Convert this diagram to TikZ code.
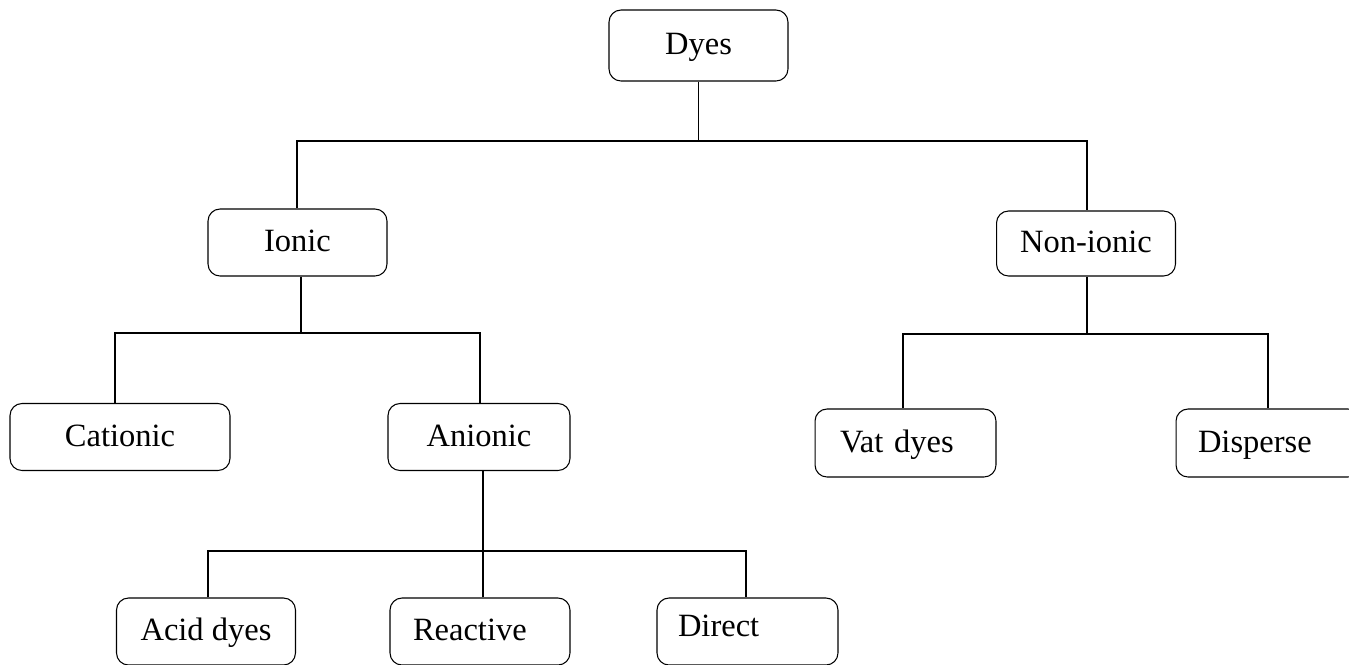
\documentclass[tikz,border=0pt]{standalone}
\usepackage{fontspec}
\setmainfont{Liberation Serif}
\usetikzlibrary{positioning}

\begin{document}
\begin{tikzpicture}[x=0.02cm,y=-0.02cm,line width=0.6pt,
  dyebox/.style={draw,rounded corners=0.24cm,minimum width=3.58cm,
    minimum height=1.34cm,inner sep=0pt,text height=0.5cm,text depth=0.14cm,
    font=\fontsize{18.5}{22}\selectfont},
  leftbox/.style={dyebox,align=left,inner xsep=#1}]
  \useasboundingbox (0,0) rectangle (1349,664);
  \clip (0,0) rectangle (1349,664);
  % boxes
  \node[dyebox,minimum height=1.42cm] (dyes) at (698.5,45.5) {Dyes};
  \node[dyebox] (ionic) at (297.5,242.5) {Ionic};
  \node[dyebox,minimum height=1.3cm] (nonionic) at (1086,243.5) {Non-ionic};
  \node[dyebox,minimum width=4.4cm] (cationic) at (120,437) {Cationic};
  \node[dyebox,minimum width=3.64cm] (anionic) at (479,437) {Anionic};
  \node[leftbox=0.5cm,text width=2.62cm,minimum height=1.36cm] (vat) at (905.5,443) {Vat dyes};
  \node[leftbox=0.44cm,text width=2.8cm,minimum height=1.36cm] (disperse) at (1268,443) {Disperse};
  \node[dyebox] (acid) at (206,631.5) {Acid dyes};
  \node[leftbox=0.46cm,text width=2.68cm] (reactive) at (480,631.5) {Reactive};
  \node[leftbox=0.42cm,text width=2.78cm] (direct) at (747.5,631.5) {\raisebox{2pt}{Direct}};
  % connectors
  \coordinate (b1l) at (297,141);
  \coordinate (b1r) at (1087,141);
  \coordinate (b2l) at (115,333);
  \coordinate (b2m) at (301,333);
  \coordinate (b2r) at (480,333);
  \coordinate (b3l) at (903,334);
  \coordinate (b3m) at (1087,334);
  \coordinate (b3r) at (1268,334);
  \coordinate (b4l) at (208,551);
  \coordinate (b4m) at (483,551);
  \coordinate (b4r) at (746,551);
  \draw (dyes.south) -- (dyes.south |- b1l);
  \draw (ionic.north -| b1l) -- (b1l) -- (b1r) -- (nonionic.north -| b1r);
  \draw (ionic.south -| b2m) -- (b2m);
  \draw (cationic.north -| b2l) -- (b2l) -- (b2r) -- (anionic.north -| b2r);
  \draw (nonionic.south -| b3m) -- (b3m);
  \draw (vat.north -| b3l) -- (b3l) -- (b3r) -- (disperse.north -| b3r);
  \draw (anionic.south -| b4m) -- (b4m);
  \draw (acid.north -| b4l) -- (b4l) -- (b4r) -- (direct.north -| b4r);
  \draw (reactive.north -| b4m) -- (b4m);
\end{tikzpicture}
\end{document}
